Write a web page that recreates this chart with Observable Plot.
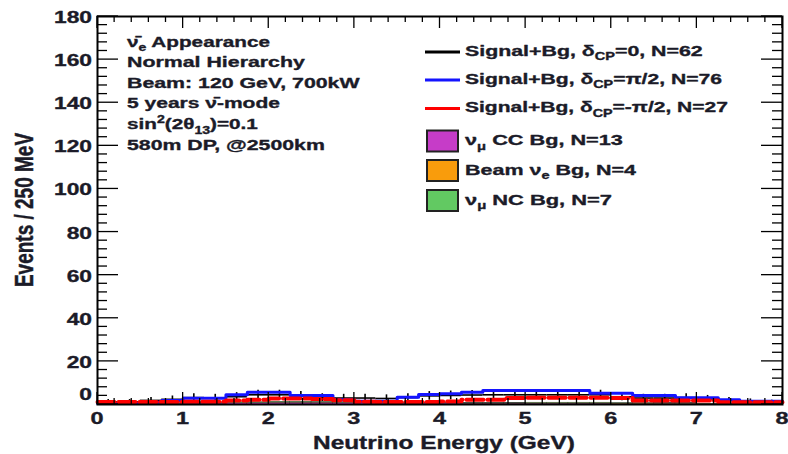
<!DOCTYPE html>
<html>
<head>
<meta charset="utf-8">
<script src="https://cdn.jsdelivr.net/npm/d3@7"></script>
<script src="https://cdn.jsdelivr.net/npm/@observablehq/plot@0.6"></script>
<style>
  html, body { margin: 0; padding: 0; background: #fff; overflow: hidden; }
</style>
</head>
<body>
<div id="chart"></div>
<script>
// Reconstructed neutrino energy spectra, events per 250 MeV bin, 0–8 GeV (32 bins)
const binWidth = 0.25;

// Signal + background, three values of the CP phase
const sigDcpZero  = [1.2, 1.2, 1.9, 2.4, 3.2, 3.0, 3.6, 4.5, 4.5, 4.0, 3.2, 3.0, 3.0, 2.8, 3.2, 4.0,
                     4.2, 4.4, 4.5, 4.5, 4.5, 4.5, 4.5, 4.5, 3.6, 3.0, 3.0, 3.2, 2.6, 1.9, 1.4, 1.0];
const sigDcpPlus  = [0.5, 0.5, 1.0, 1.8, 2.9, 2.9, 4.5, 5.7, 5.7, 4.2, 4.2, 2.2, 1.5, 1.5, 3.4, 4.6,
                     5.0, 5.7, 6.5, 6.5, 6.5, 6.5, 6.5, 5.2, 5.2, 4.2, 4.2, 3.1, 3.1, 2.2, 1.5, 1.5];
const sigDcpMinus = [1.2, 1.2, 1.2, 1.2, 1.3, 1.3, 1.8, 2.2, 2.8, 2.8, 2.5, 2.0, 1.3, 1.2, 1.2, 1.2,
                     1.4, 2.2, 2.2, 3.0, 3.1, 3.1, 3.1, 3.1, 3.0, 1.9, 1.9, 1.9, 1.9, 1.1, 1.1, 1.1];

// Background components (stacked)
const bgNumuCC  = [0.0, 0.1, 0.3, 0.4, 0.5, 0.5, 0.6, 0.7, 0.8, 0.8, 0.8, 0.7, 0.6, 0.5, 0.5, 0.5,
                   0.5, 0.4, 0.4, 0.4, 0.4, 0.4, 0.4, 0.4, 0.2, 0.2, 0.3, 0.3, 0.1, 0.1, 0.1, 0.1];
const bgBeamNue = [0.0, 0.0, 0.0, 0.0, 0.0, 0.0, 0.05, 0.05, 0.1, 0.1, 0.1, 0.1, 0.1, 0.1, 0.1, 0.1,
                   0.15, 0.15, 0.15, 0.15, 0.25, 0.25, 0.25, 0.25, 0.25, 0.25, 0.25, 0.25, 0.15, 0.15, 0.1, 0.1];
const bgNumuNC  = [0.0, 0.1, 0.2, 0.2, 0.4, 0.4, 0.4, 0.4, 0.4, 0.4, 0.3, 0.3, 0.3, 0.3, 0.3, 0.1,
                   0.2, 0.2, 0.2, 0.2, 0.2, 0.2, 0.2, 0.2, 0.2, 0.2, 0.1, 0.1, 0.1, 0.1, 0.05, 0.05];

// Axes
const xTickValues = [0, 1, 2, 3, 4, 5, 6, 7, 8];
const xTickLabels = ["0", "1", "2", "3", "4", "5", "6", "7", "8"];
const yTickValues = [0, 20, 40, 60, 80, 100, 120, 140, 160, 180];
const yTickLabels = ["0", "20", "40", "60", "80", "100", "120", "140", "160", "180"];
const xTitle = "Neutrino Energy (GeV)";
const yTitle = "Events / 250 MeV";

// Info box and legend text; [text, "sub" | "sup"] marks a raised or lowered run
const infoLines = [
  ["ν\u0304", ["e", "sub"], " Appearance"],
  ["Normal Hierarchy"],
  ["Beam: 120 GeV, 700kW"],
  ["5 years ν\u0304-mode"],
  ["sin", ["2", "sup"], "(2θ", ["13", "sub"], ")=0.1"],
  ["580m DP, @2500km"]
];
const legendLabels = [
  ["Signal+Bg, δ", ["CP", "sub"], "=0, N=62"],
  ["Signal+Bg, δ", ["CP", "sub"], "=π/2, N=76"],
  ["Signal+Bg, δ", ["CP", "sub"], "=-π/2, N=27"],
  ["ν", ["μ", "sub"], " CC Bg, N=13"],
  ["Beam ν", ["e", "sub"], " Bg, N=4"],
  ["ν", ["μ", "sub"], " NC Bg, N=7"]
];

const colDcpZero = "#000000", colDcpPlus = "#1414ff", colDcpMinus = "#ff0000";
const colCC = "#c63cc8", colBeam = "#f99c0c", colNC = "#62c962";
const ink = "#1b1b28";
const FONT = "'Liberation Sans', Arial, Helvetica, sans-serif";

// ---- rows for the marks ----
function stepRows(values) {
  const rows = values.map((n, i) => ({x: i * binWidth, n}));
  rows.push({x: values.length * binWidth, n: values[values.length - 1]});
  return rows;
}
const pointRows = sigDcpZero.map((n, i) => ({
  x1: i * binWidth, x2: (i + 1) * binWidth, xc: (i + 0.5) * binWidth, n
}));
const bgRows = [];
const stackBase = bgNumuCC.map(() => 0);
for (const [values, color] of [[bgNumuCC, colCC], [bgBeamNue, colBeam], [bgNumuNC, colNC]]) {
  values.forEach((n, i) => {
    bgRows.push({x1: i * binWidth, x2: (i + 1) * binWidth, y1: stackBase[i], y2: stackBase[i] + n, color});
    stackBase[i] += n;
  });
}

const chart = Plot.plot({
  width: 788,
  height: 454,
  marginLeft: 97,
  marginRight: 6,
  marginTop: 16,
  marginBottom: 50,
  style: {background: "#fff", overflow: "visible"},
  x: {domain: [0, 8], axis: null},
  y: {domain: [0, 180], axis: null},
  color: {type: "identity"},
  marks: [
    Plot.rect(bgRows, {x1: "x1", x2: "x2", y1: "y1", y2: "y2", fill: "color", stroke: "#333", strokeWidth: 0.4}),
    Plot.ruleX(pointRows, {x: "xc", y1: d => Math.max(0, d.n - Math.sqrt(d.n)), y2: d => d.n + Math.sqrt(d.n),
                           stroke: colDcpZero, strokeWidth: 1.6}),
    Plot.ruleY(pointRows, {y: "n", x1: "x1", x2: "x2", stroke: colDcpZero, strokeWidth: 1.6}),
    Plot.line(stepRows(sigDcpPlus), {x: "x", y: "n", curve: "step-after", stroke: colDcpPlus, strokeWidth: 3}),
    Plot.line(stepRows(sigDcpMinus), {x: "x", y: "n", curve: "step-after", stroke: colDcpMinus, strokeWidth: 4,
                                      strokeDasharray: "17,4"}),
    Plot.frame({stroke: "#000", strokeWidth: 2})
  ]
});
document.getElementById("chart").append(chart);

const svg = d3.select(chart);
const sx = chart.scale("x"), sy = chart.scale("y");
const [X0, X1] = sx.range, [Y0, Y1] = sy.range;

// ---- inward ticks on all four sides ----
const tg = svg.append("g").attr("stroke", "#000").attr("stroke-width", 1.3).attr("fill", "none");
for (const v of d3.range(0, 8.0001, 0.2)) {
  const px = sx.apply(v);
  const len = Math.abs(v - Math.round(v)) < 1e-6 ? 12 : 6;
  tg.append("line").attr("x1", px).attr("x2", px).attr("y1", Y0).attr("y2", Y0 - len);
  tg.append("line").attr("x1", px).attr("x2", px).attr("y1", Y1).attr("y2", Y1 + len);
}
for (const v of d3.range(0, 180.001, 4)) {
  const py = sy.apply(v);
  const len = Math.round(v) % 20 === 0 ? 21 : 10;
  tg.append("line").attr("y1", py).attr("y2", py).attr("x1", X0).attr("x2", X0 + len);
  tg.append("line").attr("y1", py).attr("y2", py).attr("x1", X1).attr("x2", X1 - len);
}

// ---- text helpers ----
const txt = svg.append("g").attr("stroke", ink).attr("stroke-width", 0.35).attr("stroke-linejoin", "round");
function richText(parent, segs, {x = 0, y = 0, size, anchor = "start"}) {
  const t = parent.append("text")
    .attr("x", x).attr("y", y)
    .attr("font-family", FONT).attr("font-weight", "bold")
    .attr("font-size", size).attr("fill", ink).attr("text-anchor", anchor);
  let shift = 0;
  for (const s of segs) {
    const [str, kind] = typeof s === "string" ? [s, null] : s;
    const target = kind === "sub" ? size * 0.3 : kind === "sup" ? -size * 0.4 : 0;
    const ts = t.append("tspan").attr("dy", target - shift).text(str);
    shift = target;
    if (kind === "sub" || kind === "sup") ts.attr("font-size", size * 0.68);
  }
  return t;
}
function stretchAbout(t, ax, s) {
  t.attr("transform", `translate(${ax},0) scale(${s},1) translate(${-ax},0)`);
}
function fitWidth(t, x0, w) {
  const b = t.node().getBBox();
  t.attr("transform", `translate(${x0},0) scale(${w / b.width},1) translate(${-b.x},0)`);
}

// ---- tick labels ----
const labelStretch = 1.38;
xTickValues.forEach((v, i) => {
  const px = sx.apply(v);
  stretchAbout(richText(txt, [xTickLabels[i]], {x: px, y: 424, size: 17, anchor: "middle"}), px, labelStretch);
});
yTickValues.forEach((v, i) => {
  const py = sy.apply(v);
  const ax = X0 - 5;
  const base = v === 0 ? py - 4 : py + 7;
  stretchAbout(richText(txt, [yTickLabels[i]], {x: ax, y: base, size: 16.5, anchor: "end"}), ax, labelStretch);
});

// ---- axis titles ----
fitWidth(richText(txt, [xTitle], {y: 449, size: 17.5}), 313, 262);
txt.append("text")
  .attr("transform", "translate(33,210) scale(1.35,1) rotate(-90)")
  .attr("text-anchor", "middle")
  .attr("font-family", FONT).attr("font-weight", "bold")
  .attr("font-size", 19).attr("fill", ink)
  .text(yTitle);

// ---- info box ----
const infoBase = [47, 67, 88, 108.5, 129.5, 150];
const infoWidth = [143, 179, 234, 153, 131, 198];
infoLines.forEach((segs, i) => {
  fitWidth(richText(txt, segs, {y: infoBase[i], size: 15}), 127, infoWidth[i]);
});

// ---- legend ----
const legendBase = [56, 84, 112.5, 145.5, 175, 205];
const legendWidth = [238, 257, 263, 158, 172, 147];
const legendLines = [colDcpZero, colDcpPlus, colDcpMinus];
const legendFills = [colCC, colBeam, colNC];
const lg = svg.append("g");
legendLines.forEach((c, i) => {
  lg.append("line").attr("x1", 425).attr("x2", 460)
    .attr("y1", legendBase[i] - 4).attr("y2", legendBase[i] - 4)
    .attr("stroke", c).attr("stroke-width", 3);
});
legendFills.forEach((c, i) => {
  lg.append("rect").attr("x", 427).attr("y", legendBase[i + 3] - 15)
    .attr("width", 31).attr("height", 21)
    .attr("fill", c).attr("stroke", "#222").attr("stroke-width", 2);
});
legendLabels.forEach((segs, i) => {
  fitWidth(richText(txt, segs, {y: legendBase[i], size: 15}), 465, legendWidth[i]);
});
</script>
</body>
</html>
